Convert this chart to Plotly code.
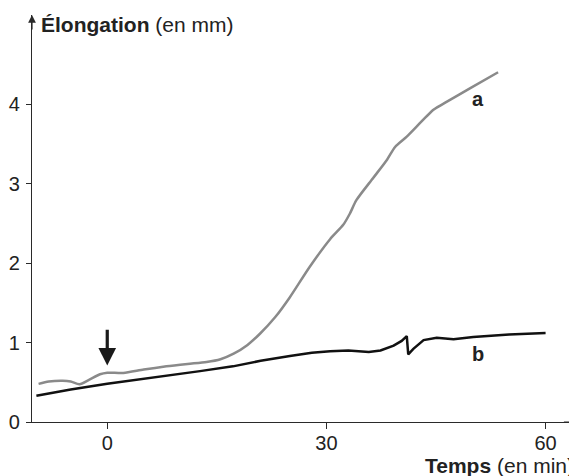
import plotly.graph_objects as go

# Curve a (grey)
time_a = [-9.4, -8, -6.1, -5, -3.8, -2.5, -1, 0, 2.2, 5, 8.1, 11, 13.6, 15.5, 17.3,
          19.2, 20.9, 23, 25, 27.7, 30.5, 32.3, 33.2, 34.1, 36.4, 38.3, 39.4,
          41.0, 44.7, 46.5, 49.7, 53.5]
elong_a = [0.48, 0.51, 0.52, 0.51, 0.475, 0.53, 0.60, 0.62, 0.617, 0.66, 0.70, 0.73,
           0.755, 0.79, 0.86, 0.97, 1.11, 1.32, 1.57, 1.95, 2.30, 2.48, 2.62, 2.79,
           3.07, 3.30, 3.46, 3.59, 3.93, 4.03, 4.20, 4.40]

# Curve b (black)
time_b = [-9.7, -5, 0, 5, 10, 12.7, 17.2, 21, 25, 28, 30.5, 33, 35.8, 37.4, 39.2,
          40.3, 41.0, 41.2, 41.9, 43.3, 45.1, 47.4, 50.1, 55, 60]
elong_b = [0.33, 0.41, 0.48, 0.54, 0.60, 0.64, 0.70, 0.77, 0.83, 0.87, 0.89, 0.90,
           0.88, 0.90, 0.96, 1.02, 1.08, 0.85, 0.92, 1.03, 1.06, 1.04, 1.07, 1.10, 1.12]

x_ticks = [0, 30, 60]
y_ticks = [0, 1, 2, 3, 4]
x_range = [-10.3, 64.3]
y_range = [0, 5.12]

FONT = "Liberation Sans, Arial, sans-serif"
AX = "#2a2a2a"
FS = 20
FS_T = 21

# page has an 8px body margin; figure is placed at (8, 8)
OFF = 8
PLOT_W = 545
PLOT_H = 406.7

fig = go.Figure()
fig.add_trace(go.Scatter(x=time_a, y=elong_a, mode="lines",
                         line=dict(color="#8a8a8a", width=2.5, shape="spline", smoothing=0.7),
                         hoverinfo="skip", showlegend=False))
fig.add_trace(go.Scatter(x=time_b, y=elong_b, mode="lines",
                         line=dict(color="#111111", width=2.5),
                         hoverinfo="skip", showlegend=False))

fig.update_layout(
    width=577 - OFF, height=476 - OFF,
    margin=dict(l=32 - OFF, r=0, t=15 - OFF, b=476 - OFF - (15 - OFF) - PLOT_H, pad=0),
    paper_bgcolor="white", plot_bgcolor="white",
    font=dict(family=FONT, size=FS, color="#222"),
    xaxis=dict(range=x_range, tickvals=x_ticks, ticks="outside", ticklen=6,
               tickcolor=AX, showline=True, linecolor=AX, linewidth=1.2,
               showgrid=False, zeroline=False, ticklabelstandoff=-3,
               automargin=False, tickfont=dict(size=FS)),
    yaxis=dict(range=y_range, tickvals=y_ticks, ticks="outside", ticklen=5,
               tickcolor=AX, showline=True, linecolor=AX, linewidth=1.2,
               showgrid=False, zeroline=False, ticklabelstandoff=2,
               automargin=False, tickfont=dict(size=FS)),
)

annotations = [
    # axis arrowheads
    dict(x=x_range[1], y=0, ax=x_range[1] - 2, ay=0, xref="x", yref="y",
         axref="x", ayref="y", showarrow=True, arrowhead=2, arrowsize=1.3,
         arrowwidth=1.2, arrowcolor=AX, text=""),
    dict(x=x_range[0], y=y_range[1], ax=x_range[0], ay=y_range[1] - 0.2, xref="x", yref="y",
         axref="x", ayref="y", showarrow=True, arrowhead=2, arrowsize=1.3,
         arrowwidth=1.2, arrowcolor=AX, text=""),
    # time-zero arrow
    dict(x=0, y=0.71, ax=0, ay=1.18, xref="x", yref="y", axref="x", ayref="y",
         showarrow=True, arrowhead=2, arrowsize=1.1, arrowwidth=3.2,
         arrowcolor="#1a1a1a", text=""),
    dict(x=(39 - 32) / PLOT_W, y=(421.7 - 24) / PLOT_H, xref="paper", yref="paper",
         xanchor="left", yanchor="middle", showarrow=False,
         text="<b>Élongation</b> (en mm)", font=dict(size=FS_T, color="#222")),
    dict(x=(576 - 32) / PLOT_W, y=(421.7 - 465.5) / PLOT_H, xref="paper", yref="paper",
         xanchor="right", yanchor="middle", showarrow=False,
         text="<b>Temps</b> (en min)", font=dict(size=FS_T, color="#222")),
    dict(x=50.7, y=4.06, xref="x", yref="y", showarrow=False, text="<b>a</b>",
         font=dict(size=FS, color="#222")),
    dict(x=50.8, y=0.86, xref="x", yref="y", showarrow=False, text="<b>b</b>",
         font=dict(size=FS, color="#222")),
]
fig.update_layout(annotations=annotations)

fig.write_html("out.html")
